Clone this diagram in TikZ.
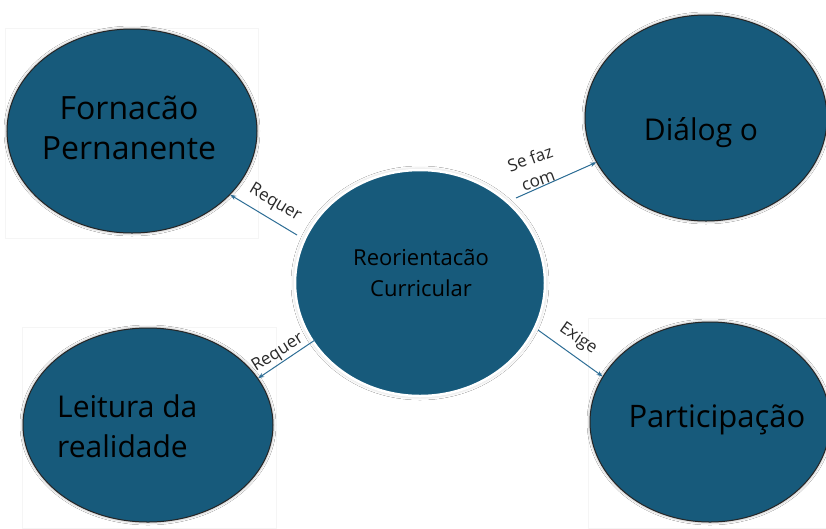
\documentclass[tikz,border=0pt]{standalone}
\usepackage{fontspec}
\setmainfont{Open Sans}
\usetikzlibrary{shapes.geometric,arrows.meta,shadows.blur}
\definecolor{ellfill}{HTML}{175A7B}
\definecolor{arrowc}{HTML}{2E6E96}
\definecolor{lblc}{HTML}{2A2A2A}
\begin{document}
\begin{tikzpicture}[x=1pt,y=-1pt,
  ell/.style={ellipse, inner sep=0pt, fill=ellfill, draw=black!85, line width=1pt,
    blur shadow={shadow xshift=0pt, shadow yshift=0pt, shadow blur radius=3pt, shadow opacity=45}},
  centerell/.style={ellipse, inner sep=0pt, fill=ellfill, draw=white, line width=2.5pt,
    blur shadow={shadow xshift=0pt, shadow yshift=0pt, shadow blur radius=4pt, shadow opacity=25}},
  bigtxt/.style={inner sep=0pt, text=black},
  lbl/.style={inner sep=0pt, text=lblc, font=\fontsize{17}{23}\selectfont, align=center},
  arr/.style={draw=arrowc, line width=1pt, -{Stealth[length=6pt,width=4.5pt]}},
  frame/.style={draw=black!4, line width=0.6pt, fill=white}
]
\useasboundingbox (0,0) rectangle (826,528);
\fill[white] (0,0) rectangle (826,528);

% faint picture frames
\draw[frame] (5,28) rectangle (258,238);
\draw[frame] (22,327) rectangle (276,528);
\draw[frame] (588,318) rectangle (826,528);

% ellipses
\node[ell, minimum width=250pt, minimum height=204pt] (f) at (132,131) {};
\node[ell, minimum width=242pt, minimum height=206pt] (d) at (706,118) {};
\node[ell, minimum width=250pt, minimum height=194pt] (l) at (148,425) {};
\node[ell, minimum width=240pt, minimum height=200pt] (p) at (710,422) {};
\node[centerell, minimum width=250pt, minimum height=226pt] (c) at (420,283) {};

% texts
\node[bigtxt, align=center, font=\fontsize{32}{40}\selectfont] (ft) at (129,128) {Fornacão\\Pernanente};
\node[bigtxt, anchor=base, font=\fontsize{30}{36}\selectfont] (dt) at (701,140) {Diálog o};
\node[bigtxt, align=left, anchor=west, font=\fontsize{30}{40}\selectfont] (lt) at (57,426) {Leitura da\\realidade};
\node[bigtxt, anchor=base, font=\fontsize{31}{36}\selectfont] (pt) at (717,427) {Participação};
\node[bigtxt, align=center, font=\fontsize{22}{31}\selectfont] (ct) at (421,273) {Reorientacão\\Curricular};

% connector start points
\coordinate (s1) at (297,235);
\coordinate (s2) at (516,198);
\coordinate (s3) at (315,340);
\coordinate (s4) at (538,330);

\draw[arr] (s1) -- (f.-33);
\draw[arr] (s2) -- (d.202);
\draw[arr] (s3) -- (l.23);
\draw[arr] (s4) -- (p.157);

% labels
\node[lbl, rotate=-31] (r1) at (275,203) {Requer};
\node[lbl, rotate=20] (sf) at (534,169) {Se faz\\com};
\node[lbl, rotate=32] (r2) at (278,353) {Requer};
\node[lbl, rotate=-35] (ex) at (578,339) {Exige};
\end{tikzpicture}
\end{document}
